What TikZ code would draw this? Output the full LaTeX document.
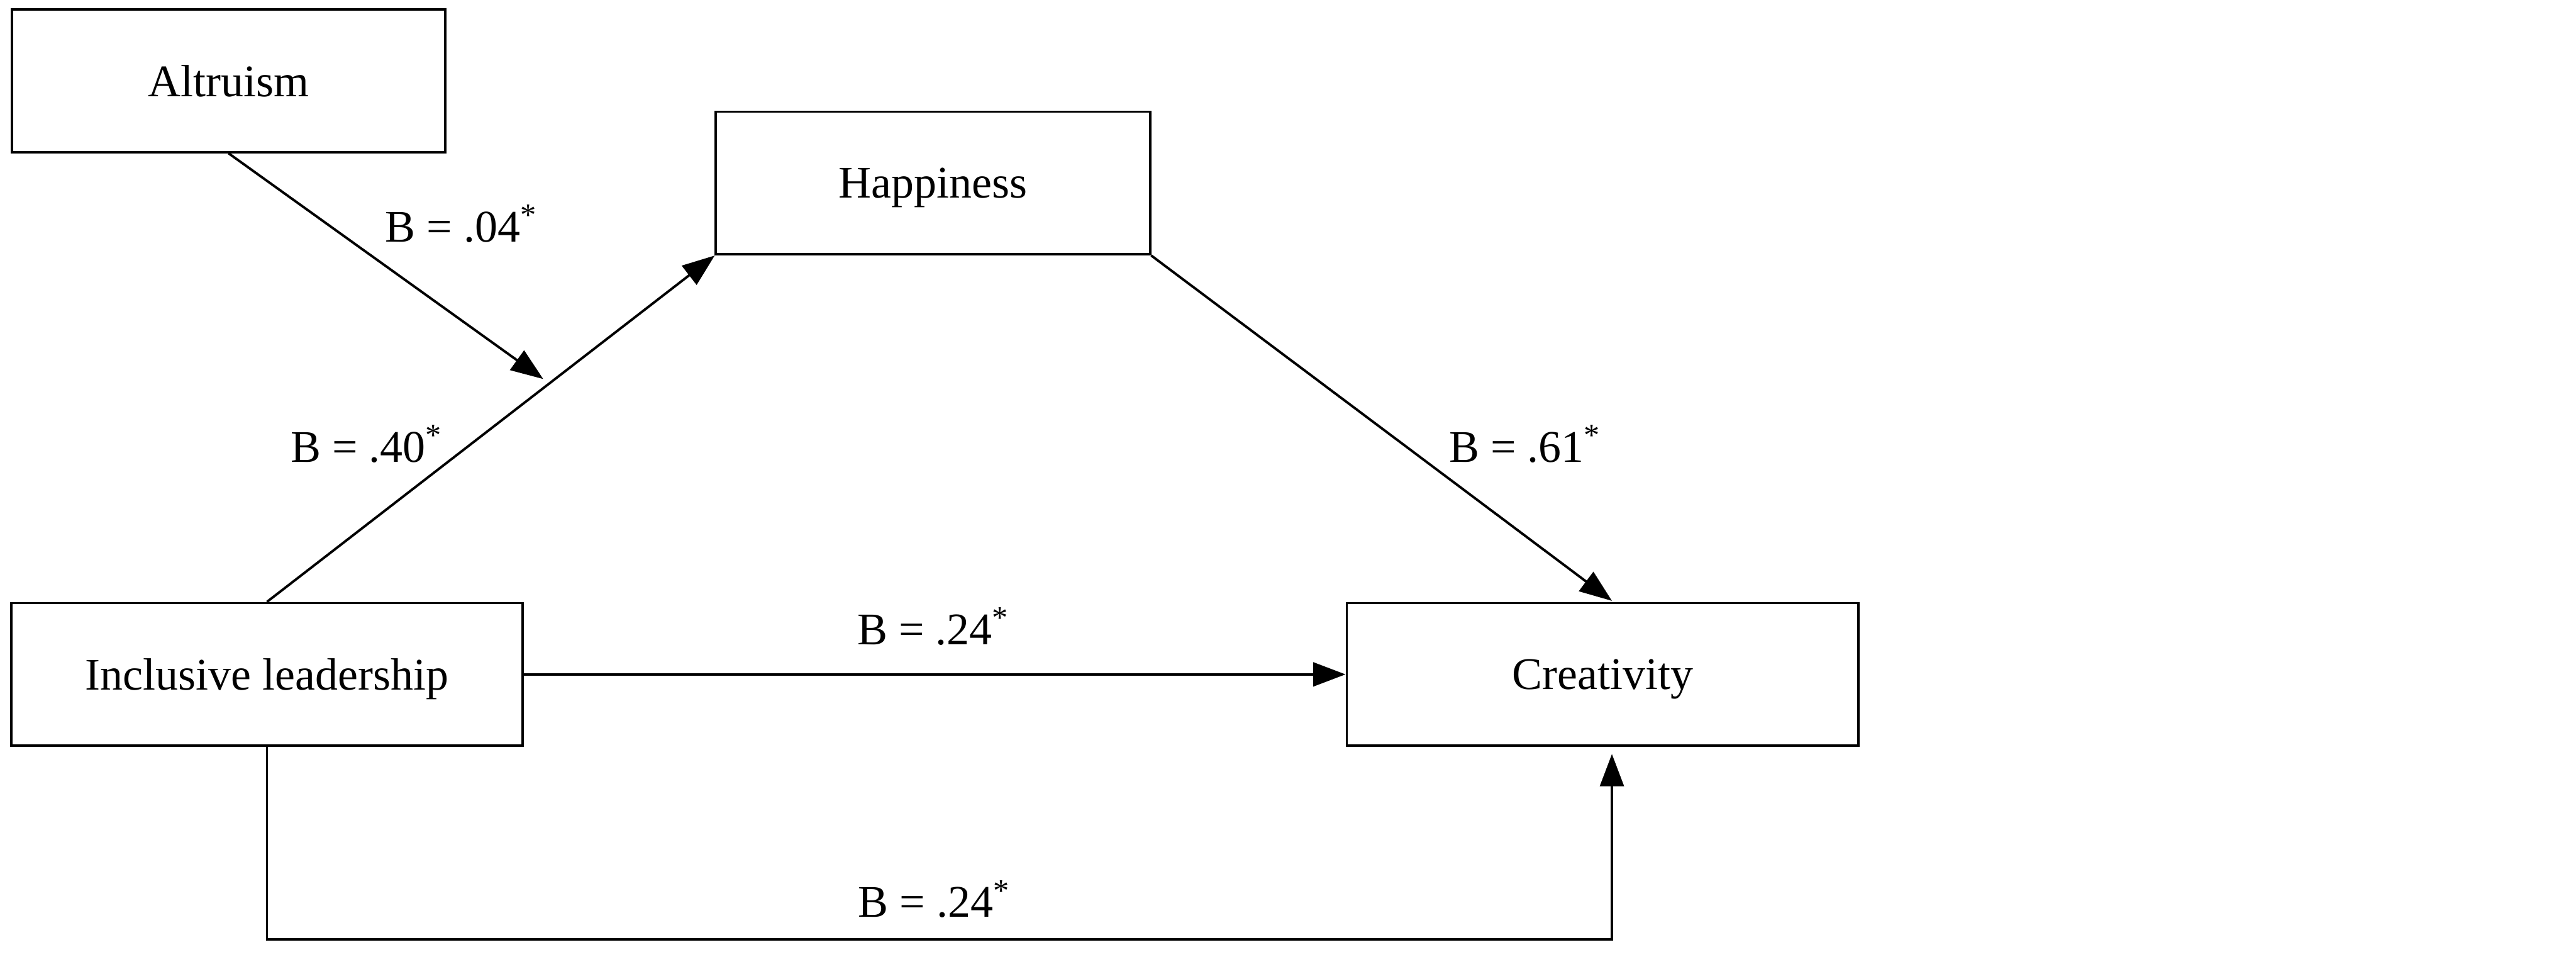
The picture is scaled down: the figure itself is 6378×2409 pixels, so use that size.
\documentclass[tikz,border=0pt]{standalone}
\usepackage{fontspec}
\setmainfont{Liberation Serif}
\usetikzlibrary{arrows.meta,calc}
\begin{document}
\begin{tikzpicture}[x=0.1pt,y=-0.1pt,
  font=\fontsize{11.2pt}{13pt}\selectfont,
  box/.style={draw=black,line width=0.6pt,inner sep=0pt,minimum height=35.3pt,text depth=0pt},
  arr/.style={line width=0.6pt,-{Triangle[length=8pt,width=5.9pt]}},
  lbl/.style={anchor=base,inner sep=0pt}]
\useasboundingbox (0,0) rectangle (6378,2409);
\node[box,minimum width=107.4pt] (alt) at (566,200) {Altruism};
\node[box,minimum width=107.5pt] (hap) at (2310,453) {Happiness};
\node[box,minimum width=126.6pt] (inc) at (661,1669) {Inclusive leadership};
\node[box,minimum width=126.7pt] (cre) at (3968,1669) {Creativity};
\coordinate (mod) at (1345,938);
\coordinate (cretop) at (3991,1487);
\coordinate (crebot) at (3991,1866);
\coordinate (corner) at (3991,2325);
\draw[arr] (inc.north) -- (hap.south west);
\draw[arr] (alt.south) -- (mod);
\draw[arr] (hap.south east) -- (cretop);
\draw[arr] (inc.east) -- (cre.west);
\draw[arr] (inc.south) |- (corner) -- (crebot);
\node[lbl] (l1) at (1143,598) {B = .04\textsuperscript{*}};
\node[lbl] (l2) at (909,1143) {B = .40\textsuperscript{*}};
\node[lbl] (l3) at (3777,1143) {B = .61\textsuperscript{*}};
\node[lbl] (l4) at (2312,1595) {B = .24\textsuperscript{*}};
\node[lbl] (l5) at (2314,2270) {B = .24\textsuperscript{*}};
\end{tikzpicture}
\end{document}
